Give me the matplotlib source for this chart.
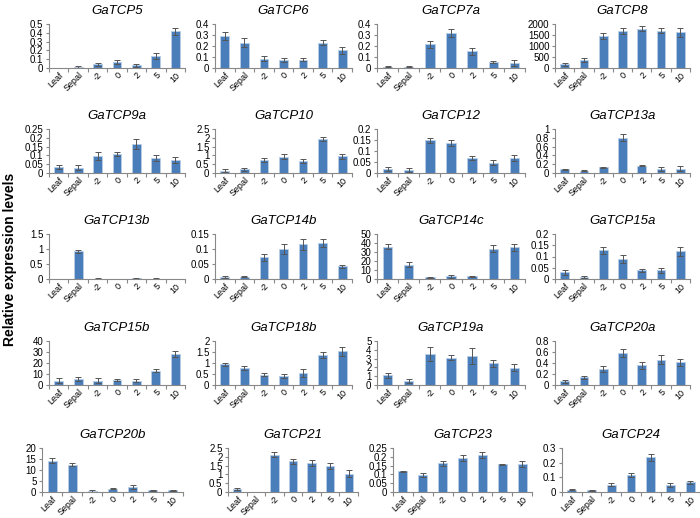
import matplotlib
matplotlib.use("Agg")
import matplotlib.pyplot as plt
import numpy as np

plt.rcParams["font.family"] = ["Liberation Sans", "DejaVu Sans"]

stages = ["Leaf", "Sepal", "-2", "0", "2", "5", "10"]

genes = ["GaTCP5", "GaTCP6", "GaTCP7a", "GaTCP8",
         "GaTCP9a", "GaTCP10", "GaTCP12", "GaTCP13a",
         "GaTCP13b", "GaTCP14b", "GaTCP14c", "GaTCP15a",
         "GaTCP15b", "GaTCP18b", "GaTCP19a", "GaTCP20a",
         "GaTCP20b", "GaTCP21", "GaTCP23", "GaTCP24"]

means = [
    [0.002, 0.012, 0.04, 0.065, 0.03, 0.135, 0.415],
    [0.29, 0.23, 0.085, 0.07, 0.075, 0.23, 0.16],
    [0.012, 0.012, 0.215, 0.315, 0.15, 0.055, 0.045],
    [170, 370, 1450, 1680, 1790, 1700, 1630],
    [0.035, 0.03, 0.095, 0.11, 0.163, 0.083, 0.075],
    [0.13, 0.2, 0.72, 0.93, 0.67, 1.93, 0.95],
    [0.018, 0.013, 0.148, 0.135, 0.067, 0.047, 0.067],
    [0.08, 0.05, 0.13, 0.8, 0.17, 0.09, 0.1],
    [0.005, 0.92, 0.015, 0.005, 0.03, 0.012, 0.005],
    [0.008, 0.008, 0.072, 0.1, 0.115, 0.12, 0.042],
    [36, 16, 2, 3, 2.8, 33.5, 35],
    [0.03, 0.008, 0.128, 0.088, 0.038, 0.038, 0.123],
    [4, 5.5, 4, 4.5, 3.8, 13, 28],
    [0.95, 0.78, 0.47, 0.42, 0.55, 1.38, 1.53],
    [1.1, 0.45, 3.5, 3.1, 3.25, 2.45, 1.95],
    [0.07, 0.14, 0.29, 0.58, 0.36, 0.46, 0.41],
    [14.2, 12.5, 0.5, 1.5, 2.2, 0.8, 0.7],
    [0.15, 0.0, 2.12, 1.75, 1.67, 1.45, 1.05],
    [0.118, 0.097, 0.163, 0.193, 0.208, 0.157, 0.158],
    [0.015, 0.012, 0.05, 0.115, 0.237, 0.048, 0.067],
]

errors = [
    [0.002, 0.008, 0.015, 0.025, 0.015, 0.03, 0.045],
    [0.035, 0.04, 0.025, 0.02, 0.015, 0.025, 0.03],
    [0.005, 0.006, 0.03, 0.035, 0.03, 0.01, 0.025],
    [70, 90, 150, 130, 100, 130, 200],
    [0.01, 0.015, 0.022, 0.012, 0.028, 0.017, 0.017],
    [0.07, 0.1, 0.12, 0.15, 0.12, 0.12, 0.15],
    [0.008, 0.01, 0.012, 0.013, 0.01, 0.012, 0.013],
    [0.01, 0.01, 0.015, 0.08, 0.02, 0.04, 0.06],
    [0.003, 0.04, 0.005, 0.003, 0.02, 0.005, 0.003],
    [0.003, 0.002, 0.013, 0.017, 0.018, 0.012, 0.004],
    [3, 3, 0.5, 1.5, 0.8, 4, 4],
    [0.012, 0.004, 0.015, 0.017, 0.006, 0.013, 0.02],
    [2, 2, 2, 1, 1.5, 1.5, 2.5],
    [0.07, 0.1, 0.07, 0.1, 0.18, 0.13, 0.2],
    [0.3, 0.2, 0.8, 0.3, 0.9, 0.35, 0.4],
    [0.03, 0.03, 0.06, 0.07, 0.06, 0.08, 0.07],
    [1.2, 0.7, 0.3, 0.3, 0.8, 0.3, 0.3],
    [0.05, 0.0, 0.15, 0.15, 0.17, 0.17, 0.2],
    [0.003, 0.013, 0.015, 0.017, 0.017, 0.003, 0.018],
    [0.003, 0.005, 0.01, 0.013, 0.025, 0.012, 0.01],
]

ymax = [0.5, 0.4, 0.4, 2000, 0.25, 2.5, 0.2, 1, 1.5, 0.15,
        50, 0.2, 40, 2, 5, 0.8, 20, 2.5, 0.25, 0.3]
ystep = [0.1, 0.1, 0.1, 500, 0.05, 0.5, 0.05, 0.2, 0.5, 0.05,
         10, 0.05, 10, 0.5, 1, 0.2, 5, 0.5, 0.05, 0.1]

W, H = 700, 518
fig = plt.figure(figsize=(7, 5.18), dpi=100)

# axes placement in pixels (left, width) per column, (top, bottom) per row
col_left = [49, 215, 377, 555]
col_w = [136, 137, 148, 135]
row5_left = [42, 228, 393, 562]
row5_w = [141, 130, 139, 138]
row_tb = [(24, 68), (129, 173), (234, 279), (341, 385), (448, 492)]

x = np.arange(len(stages))
for i, g in enumerate(genes):
    r, c = divmod(i, 4)
    if r == 4:
        l, w = row5_left[c], row5_w[c]
    else:
        l, w = col_left[c], col_w[c]
    t, b = row_tb[r]
    ax = fig.add_axes([l / W, 1 - b / H, w / W, (b - t) / H])
    ax.bar(x, means[i], width=0.45, color="#4a7ebb", edgecolor="#b9cde5",
           linewidth=0.6, yerr=errors[i], capsize=2,
           error_kw=dict(ecolor="#555555", elinewidth=0.7, capthick=0.7))
    ax.set_xlim(-0.5, len(stages) - 0.5)
    ax.set_ylim(0, ymax[i])
    ax.set_yticks(np.arange(0, ymax[i] + ystep[i] / 2, ystep[i]))
    ax.set_yticklabels(["%g" % v for v in ax.get_yticks()], fontsize=7)
    # excel-style ticks between categories, labels at centers
    ax.set_xticks(np.arange(-0.5, len(stages), 1.0))
    ax.set_xticklabels([])
    ax.set_xticks(x, minor=True)
    ax.set_xticklabels(stages, minor=True, rotation=45, ha="right",
                       rotation_mode="anchor", fontsize=6.5)
    ax.tick_params(axis="x", which="minor", length=0, pad=2)
    ax.tick_params(axis="x", which="major", length=3, color="#888888")
    ax.tick_params(axis="y", length=2.5, color="#888888", pad=1.5)
    for s in ["top", "right"]:
        ax.spines[s].set_visible(False)
    for s in ["left", "bottom"]:
        ax.spines[s].set_color("#888888")
        ax.spines[s].set_linewidth(0.8)
    ax.set_title(g, fontsize=9.5, style="italic", pad=7)

fig.text(10 / W, 1 - 259 / H, "Relative expression levels", rotation=90,
         fontsize=10, fontweight="bold", ha="center", va="center")

fig.savefig("out.png", dpi=100)
